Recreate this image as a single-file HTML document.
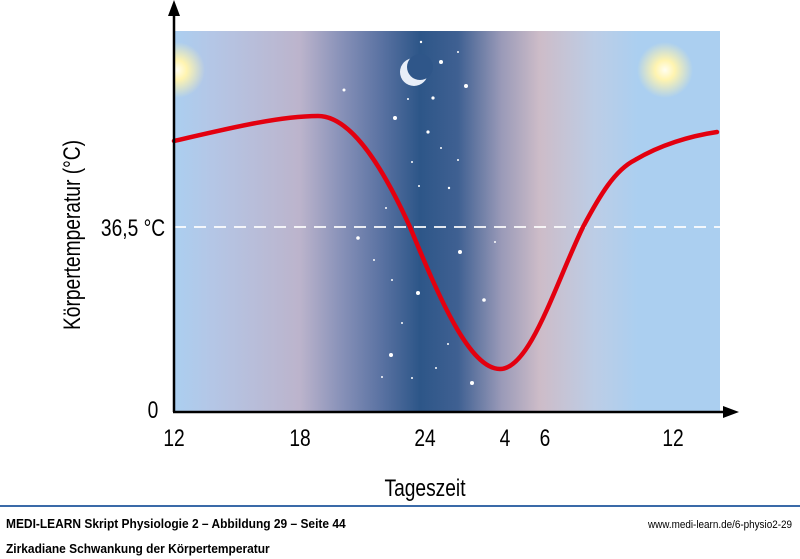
<!DOCTYPE html>
<html><head><meta charset="utf-8"><style>
html,body{margin:0;padding:0;width:800px;height:559px;background:#fff;overflow:hidden;font-family:"Liberation Sans",sans-serif}
svg{display:block}
</style></head><body>
<svg width="800" height="559" viewBox="0 0 800 559" xmlns="http://www.w3.org/2000/svg">
<defs>
<linearGradient id="sky" x1="174" x2="720" y1="0" y2="0" gradientUnits="userSpaceOnUse">
<stop offset="0" stop-color="#abcff0"/>
<stop offset="0.07" stop-color="#b4c6e6"/>
<stop offset="0.23" stop-color="#bcb4cc"/>
<stop offset="0.30" stop-color="#8c94ba"/>
<stop offset="0.38" stop-color="#5a72a2"/>
<stop offset="0.45" stop-color="#2d5688"/>
<stop offset="0.52" stop-color="#3f6092"/>
<stop offset="0.60" stop-color="#9a9ab8"/>
<stop offset="0.67" stop-color="#cdbcc8"/>
<stop offset="0.77" stop-color="#bccde6"/>
<stop offset="0.85" stop-color="#abcff0"/>
<stop offset="1" stop-color="#abcff0"/>
</linearGradient>
<radialGradient id="sun"><stop offset="0" stop-color="#fffef0"/><stop offset="0.35" stop-color="#fff4b0"/><stop offset="1" stop-color="#fff4b0" stop-opacity="0"/></radialGradient>
<clipPath id="c"><rect x="174" y="31" width="546" height="381"/></clipPath>
</defs>
<rect x="174" y="31" width="546" height="381" fill="url(#sky)"/>
<g clip-path="url(#c)">
<circle cx="177" cy="70" r="28" fill="url(#sun)"/>
<circle cx="665" cy="70" r="28" fill="url(#sun)"/>
</g>
<circle cx="414" cy="72" r="14" fill="#e8eef8"/>
<circle cx="420" cy="67" r="13" fill="#2f5689"/>
<g fill="#fff">
<circle cx="441" cy="62" r="2"/><circle cx="466" cy="86" r="2"/><circle cx="433" cy="98" r="1.6"/><circle cx="395" cy="118" r="2"/><circle cx="428" cy="132" r="1.6"/><circle cx="344" cy="90" r="1.5"/><circle cx="421" cy="42" r="1.2"/><circle cx="458" cy="52" r="1"/><circle cx="408" cy="99" r="1"/><circle cx="441" cy="148" r="1"/><circle cx="412" cy="162" r="1"/><circle cx="458" cy="160" r="1"/><circle cx="419" cy="186" r="1"/><circle cx="449" cy="188" r="1.2"/><circle cx="358" cy="238" r="1.8"/><circle cx="460" cy="252" r="2"/><circle cx="418" cy="247" r="1"/><circle cx="484" cy="300" r="1.8"/><circle cx="418" cy="293" r="2"/><circle cx="391" cy="355" r="2"/><circle cx="472" cy="383" r="2"/><circle cx="436" cy="368" r="1"/><circle cx="382" cy="377" r="1"/><circle cx="412" cy="378" r="1"/><circle cx="392" cy="280" r="1"/><circle cx="386" cy="208" r="1"/><circle cx="374" cy="260" r="1"/><circle cx="402" cy="323" r="1"/><circle cx="448" cy="344" r="1"/><circle cx="495" cy="242" r="1"/>
</g>
<line x1="174" y1="227" x2="720" y2="227" stroke="#fff" stroke-width="2" stroke-dasharray="12,8" opacity="0.85"/>
<path d="M174,141 C230,128 280,116 318,116 C345,116 375,150 410,227 C440,300 470,369 500,369 C530,369 555,285 583,227 C600,195 615,170 635,160 C660,145 690,136 717,132" fill="none" stroke="#e3000f" stroke-width="4.5" stroke-linecap="round"/>
<line x1="174" y1="412" x2="174" y2="14" stroke="#000" stroke-width="2.5"/>
<polygon points="174,0 168,16 180,16" fill="#000"/>
<line x1="173" y1="412" x2="726" y2="412" stroke="#000" stroke-width="2.5"/>
<polygon points="739,412 723,406 723,418" fill="#000"/>
<g font-size="24" fill="#000" text-anchor="middle">
<g transform="translate(174,446) scale(0.8,1)"><text>12</text></g>
<g transform="translate(300,446) scale(0.8,1)"><text>18</text></g>
<g transform="translate(425,446) scale(0.8,1)"><text>24</text></g>
<g transform="translate(505,446) scale(0.8,1)"><text>4</text></g>
<g transform="translate(545,446) scale(0.8,1)"><text>6</text></g>
<g transform="translate(673,446) scale(0.8,1)"><text>12</text></g>
<g transform="translate(425,496) scale(0.8,1)"><text>Tageszeit</text></g>
<g transform="translate(153,418) scale(0.8,1)"><text>0</text></g>
<g transform="translate(133,236) scale(0.8,1)"><text>36,5 °C</text></g>
<g transform="translate(80,235) rotate(-90) scale(0.8,1)"><text>Körpertemperatur (°C)</text></g>
</g>
<line x1="0" y1="506" x2="800" y2="506" stroke="#3a6aa8" stroke-width="2"/>
<g transform="translate(6,528) scale(0.92,1)"><text font-size="13" font-weight="bold">MEDI-LEARN Skript Physiologie 2 – Abbildung 29 – Seite 44</text></g>
<g transform="translate(792,528) scale(0.9,1)"><text font-size="11" text-anchor="end">www.medi-learn.de/6-physio2-29</text></g>
<g transform="translate(6,553) scale(0.92,1)"><text font-size="13" font-weight="bold">Zirkadiane Schwankung der Körpertemperatur</text></g>
</svg>
</body></html>
